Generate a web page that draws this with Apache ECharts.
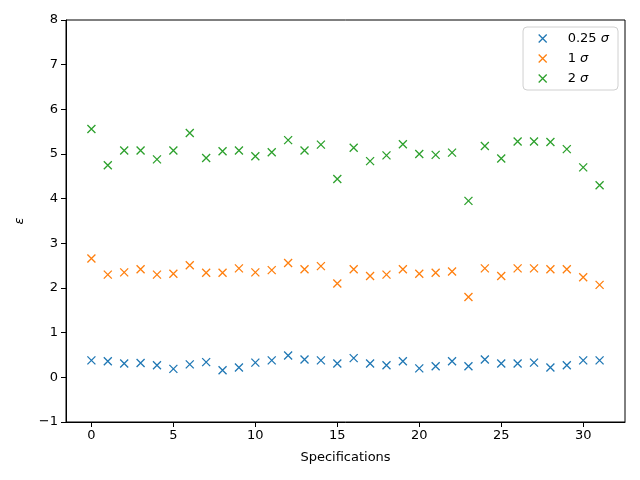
<!DOCTYPE html>
<html>
<head>
<meta charset="utf-8">
<script src="https://cdn.jsdelivr.net/npm/echarts@6/dist/echarts.min.js"></script>
<style>html,body{margin:0;padding:0;background:#fff}#c{width:640px;height:480px}</style>
</head>
<body>
<div id="c"></div>
<script>
const specs = Array.from({length: 32}, (_, i) => i);
const s025 = [0.38,0.36,0.31,0.32,0.27,0.19,0.29,0.34,0.16,0.22,0.33,0.38,0.49,0.40,0.38,0.31,
              0.43,0.31,0.27,0.36,0.20,0.25,0.36,0.25,0.40,0.31,0.31,0.33,0.22,0.27,0.38,0.38];
const s1 = [2.66,2.30,2.35,2.42,2.30,2.32,2.51,2.34,2.34,2.44,2.35,2.40,2.56,2.42,2.49,2.10,
            2.42,2.27,2.30,2.42,2.32,2.34,2.37,1.80,2.44,2.27,2.44,2.44,2.42,2.42,2.24,2.07];
const s2 = [5.56,4.75,5.08,5.08,4.88,5.08,5.47,4.91,5.06,5.08,4.95,5.04,5.31,5.08,5.21,4.44,
            5.14,4.84,4.97,5.22,5.00,4.98,5.03,3.95,5.18,4.90,5.28,5.28,5.27,5.11,4.70,4.30];
const xTicks = [0,5,10,15,20,25,30];
const names = ['0.25 σ','1 σ','2 σ'];
const colors = ['#1f77b4','#ff7f0e','#2ca02c'];
const xMark = 'path://M0,0L10,10M10,0L0,10';
const font = 'DejaVu Sans';
const fmt = v => String(v).replace('-', '\u2212');

const series = [s025, s1, s2].map((arr, k) => ({
  name: names[k],
  type: 'scatter',
  symbol: xMark,
  symbolSize: 8,
  data: arr.map((v, i) => [specs[i], v]),
  itemStyle: {color: 'rgba(0,0,0,0)', borderColor: colors[k], borderWidth: 1.3, opacity: 1},
  emphasis: {disabled: true}
}));

const chart = echarts.init(document.getElementById('c'), null, {renderer: 'canvas'});
chart.setOption({
  animation: false,
  backgroundColor: '#fff',
  textStyle: {fontFamily: font},
  grid: {left: 66, right: 15, top: 20, bottom: 58, show: true, borderColor: '#000', borderWidth: 1, backgroundColor: 'transparent'},
  xAxis: {
    type: 'value', min: -1.55, max: 32.55,
    name: 'Specifications', nameLocation: 'middle', nameGap: 29,
    nameTextStyle: {fontFamily: font, fontSize: 13, color: '#000'},
    axisLine: {show: true, onZero: false, lineStyle: {color: '#000', width: 1}},
    axisTick: {show: true, inside: false, length: 5, lineStyle: {color: '#000'}, customValues: xTicks},
    axisLabel: {show: true, margin: 7, fontFamily: font, fontSize: 13, color: '#000', customValues: xTicks, formatter: fmt},
    splitLine: {show: false}
  },
  yAxis: {
    type: 'value', min: -1, max: 8, interval: 1,
    name: 'ε', nameLocation: 'middle', nameGap: 40, nameRotate: 90,
    nameTextStyle: {fontFamily: font, fontSize: 13, color: '#000', fontStyle: 'italic'},
    axisLine: {show: true, onZero: false, lineStyle: {color: '#000', width: 1}},
    axisTick: {show: true, inside: false, length: 5, lineStyle: {color: '#000'}},
    axisLabel: {show: true, margin: 8, fontFamily: font, fontSize: 13, color: '#000', formatter: fmt},
    splitLine: {show: false}
  },
  legend: {
    orient: 'vertical', right: 22, top: 27,
    backgroundColor: '#fff', borderColor: '#d0d0d0', borderWidth: 1, borderRadius: 4,
    padding: [5, 9, 5, 15], itemGap: 7, itemWidth: 8, itemHeight: 8,
    icon: xMark,
    itemStyle: {color: 'rgba(0,0,0,0)', borderWidth: 1.3},
    data: names,
    formatter: n => { const p = n.split(' '); return p[0] + ' {i|' + p[1] + '}'; },
    textStyle: {fontFamily: font, fontSize: 13, color: '#000', padding: [0, 0, 0, 16],
      rich: {i: {fontFamily: font, fontSize: 13, fontStyle: 'italic', color: '#000'}}}
  },
  series: series
});
</script>
</body>
</html>
